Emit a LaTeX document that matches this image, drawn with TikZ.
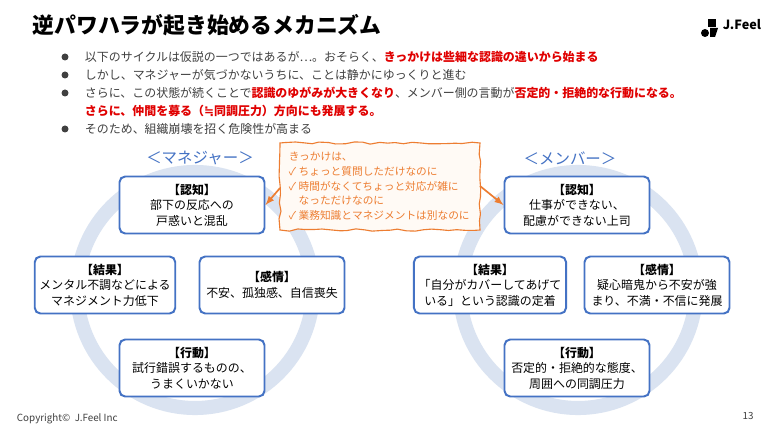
\documentclass[tikz,border=0pt]{standalone}
\usepackage{fontspec}
\setmainfont{Noto Sans CJK JP}
\newfontfamily\symfont{DejaVu Sans}
\usetikzlibrary{decorations.pathmorphing}
\definecolor{boxblue}{HTML}{4472C4}
\definecolor{ringblue}{HTML}{DAE3F1}
\definecolor{callorange}{HTML}{ED7D31}
\definecolor{hot}{HTML}{E00000}
\definecolor{txt}{HTML}{404040}
\newlength{\px}\setlength{\px}{0.025cm}
\tikzset{
  stage/.style={draw=boxblue, line width=1.4pt, rounded corners=4pt, fill=white,
    minimum width=145\px, minimum height=57\px, align=center, font=\fontsize{8.5}{11}\selectfont, text=black},
  ring/.style={draw=ringblue, line width=10pt},
  head/.style={text=boxblue, font=\fontsize{11}{13}\selectfont},
  point/.style={anchor=west, text=txt, font=\fontsize{8.5}{11}\selectfont},
  cue/.style={draw=callorange, line width=1.2pt, -latex}
}
\newcommand{\hl}[1]{\textcolor{hot}{\textbf{#1}}}
\begin{document}
\begin{tikzpicture}[x=0.025cm, y=-0.025cm]
\useasboundingbox[fill=white] (0,0) rectangle (768,432);
% title and logo
\node[anchor=west, font=\fontsize{15.5}{17}\selectfont\bfseries] (title) at (28,25) {逆パワハラが起き始めるメカニズム};
\fill (708,19) rectangle (716,27);
\fill (705,33) circle (4);
\fill (710,28) -- (718,28) -- (715,37) -- (710,37) -- cycle;
\node[anchor=west, font=\fontsize{9}{10}\selectfont\bfseries] (logo) at (718,25) {J.Feel};
% bullets
\foreach \y in {57,75,93,129} \fill[txt] (65,\y) circle (3.5);
\node[point] (p1) at (80,57) {以下のサイクルは仮説の一つではあるが…。おそらく、\hl{きっかけは些細な認識の違いから始まる}};
\node[point] (p2) at (80,75) {しかし、マネジャーが気づかないうちに、ことは静かにゆっくりと進む};
\node[point] (p3) at (80,93) {さらに、この状態が続くことで\hl{認識のゆがみが大きくなり}、メンバー側の言動が\hl{否定的・拒絶的な行動になる。}};
\node[point] (p4) at (80,111) {\hl{さらに、仲間を募る（{\symfont ≒}同調圧力）方向にも発展する。}};
\node[point] (p5) at (80,129) {そのため、組織崩壊を招く危険性が高まる};
% cycles
\draw[ring] (195,290) circle (118);
\draw[ring] (578,290) circle (118);
\node[head] (mgr) at (200,158) {＜マネジャー＞};
\node[head] (mem) at (570,158) {＜メンバー＞};
\node[stage] (m1) at (192,205) {\textbf{【認知】}\\部下の反応への\\戸惑いと混乱};
\node[stage, minimum width=140\px] (m4) at (105,285) {\textbf{【結果】}\\メンタル不調などによる\\マネジメント力低下};
\node[stage] (m2) at (272,285) {\textbf{【感情】}\\不安、孤独感、自信喪失};
\node[stage] (m3) at (192,368) {\textbf{【行動】}\\試行錯誤するものの、\\うまくいかない};
\node[stage] (n1) at (577,205) {\textbf{【認知】}\\仕事ができない、\\配慮ができない上司};
\node[stage, minimum width=140\px] (n4) at (490,285) {\textbf{【結果】}\\「自分がカバーしてあげて\\いる」という認識の定着};
\node[stage] (n2) at (657,285) {\textbf{【感情】}\\疑心暗鬼から不安が強\\まり、不満・不信に発展};
\node[stage] (n3) at (577,368) {\textbf{【行動】}\\否定的・拒絶的な態度、\\周囲への同調圧力};
% callout
\draw[callorange, fill=orange!4, line width=0.8pt, decorate,
  decoration={random steps, segment length=6pt, amplitude=0.8pt}]
  (280,143) rectangle (480,230);
\node[anchor=north west, align=left, text=callorange, font=\fontsize{7.6}{10.5}\selectfont] (cue) at (284,147)
  {きっかけは、\\✓ ちょっと質問しただけなのに\\✓ 時間がなくてちょっと対応が雑に\\\phantom{✓ }なっただけなのに\\✓ 業務知識とマネジメントは別なのに};
\coordinate (cl) at (280,188);
\coordinate (cr) at (480,186);
\draw[cue] (cl) -- (m1.east);
\draw[cue] (cr) -- (n1.west);
% footer
\node[anchor=west, text=txt, font=\fontsize{7}{8}\selectfont] (copy) at (12,419) {Copyright©\ \ J.Feel Inc};
\node[text=txt, font=\fontsize{7}{8}\selectfont] (page) at (748,416) {13};
\end{tikzpicture}
\end{document}
